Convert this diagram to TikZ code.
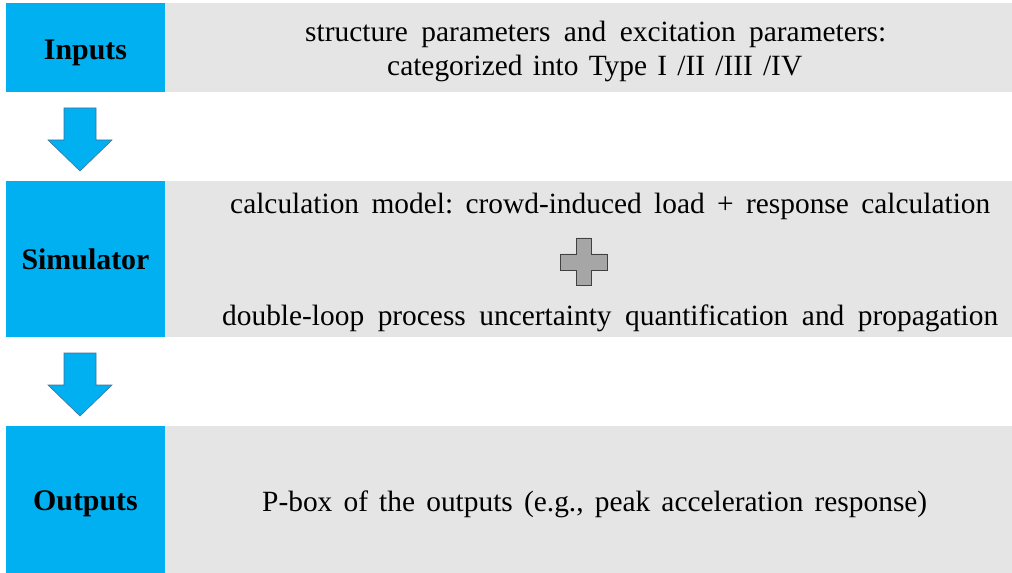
\documentclass[tikz,border=0pt]{standalone}
\usepackage{fontspec}
\setmainfont{Liberation Serif}
\frenchspacing
% a line of text spread to a given width, as in justified slide text
\newcommand{\spreadline}[2]{\makebox[#1][s]{#2}}
\begin{document}
\begin{tikzpicture}[x=1bp,y=-1bp,
  label box/.style={fill=stageblue, draw=none},
  body box/.style={fill=panelgray, draw=none},
  stage/.style={font=\fontsize{30}{34}\selectfont\bfseries, anchor=base, inner sep=0pt},
  body/.style={font=\fontsize{29.5}{34}\selectfont, anchor=base west, inner sep=0pt},
  flow arrow/.style={fill=stageblue, draw=arrowedge, line width=0.6bp, line join=miter},
]
\definecolor{stageblue}{RGB}{0,176,240}
\definecolor{panelgray}{RGB}{229,229,229}
\definecolor{arrowedge}{RGB}{65,113,156}
\definecolor{crossgray}{RGB}{166,166,166}
\useasboundingbox (0,0) rectangle (1012,573);

% three stages: blue label column and gray description panel
\fill[body box] (165,3) rectangle (1012,92);
\fill[label box] (6,3) rectangle (165,92);
\fill[body box] (165,181) rectangle (1012,337);
\fill[label box] (6,181) rectangle (165,337);
\fill[body box] (165,426) rectangle (1012,573);
\fill[label box] (6,426) rectangle (165,573);

\node[stage] (inputs) at (85.5,60) {Inputs};
\node[stage] (simulator) at (85.5,270) {Simulator};
\node[stage] (outputs) at (85.5,510) {Outputs};

\node[body] (intext1) at (305,42) {\spreadline{581bp}{structure parameters and excitation parameters:}};
\node[body] (intext2) at (387,76) {\spreadline{415bp}{categorized into Type I /II /III /IV}};
\node[body] (model) at (230,214) {\spreadline{760bp}{calculation model: crowd-induced load + response calculation}};
\node[body] (loop) at (222,325) {\spreadline{776bp}{double-loop process uncertainty quantification and propagation}};
\node[body] (ptext) at (262,511) {\spreadline{665bp}{P-box of the outputs (e.g., peak acceleration response)}};

% block arrows between stages
\draw[flow arrow] (64,108) -- (96,108) -- (96,140) -- (112,140) -- (80,171) -- (48,140) -- (64,140) -- cycle;
\draw[flow arrow] (64,353) -- (96,353) -- (96,385) -- (112,385) -- (80,416) -- (48,385) -- (64,385) -- cycle;

% plus sign joining the two simulator parts
\draw[fill=crossgray, draw=black!75, line width=0.8bp]
  (576,238) -- (591,238) -- (591,254) -- (607,254) -- (607,270) -- (591,270)
  -- (591,285) -- (576,285) -- (576,270) -- (560,270) -- (560,254) -- (576,254) -- cycle;
\end{tikzpicture}
\end{document}
